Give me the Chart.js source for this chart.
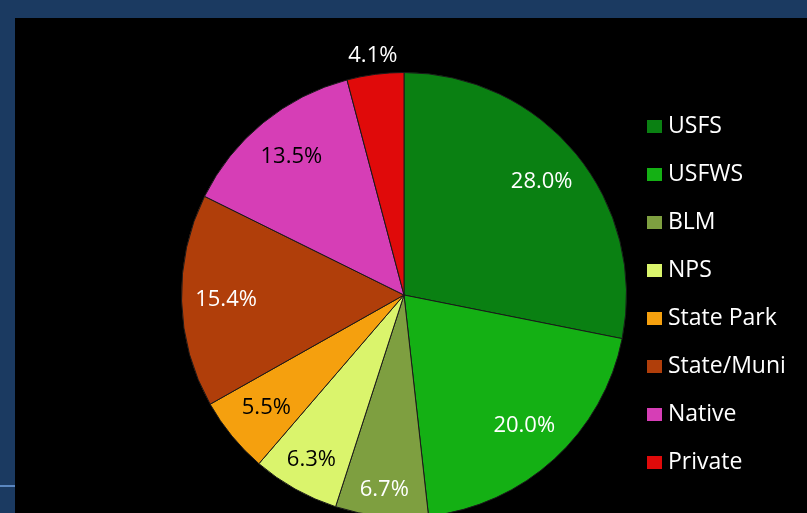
<!DOCTYPE html>
<html>
<head>
<meta charset="utf-8">
<script src="https://cdn.jsdelivr.net/npm/chart.js@4"></script>
<style>
  html, body { margin: 0; padding: 0; width: 807px; height: 513px; overflow: hidden; background: #1b3a61; }
  #panel { position: absolute; left: 15px; top: 18px; width: 792px; height: 554px; background: #000; }
  #rule { position: absolute; left: 0; top: 485px; width: 15px; height: 2px; background: #5b87c0; }
</style>
</head>
<body>
<div id="rule"></div>
<div id="panel"><canvas id="pie" width="792" height="554"></canvas></div>
<script>
// Land ownership share (%)
const owners = ['USFS', 'USFWS', 'BLM', 'NPS', 'State Park', 'State/Muni', 'Native', 'Private'];
const shares = [28.0, 20.0, 6.7, 6.3, 5.5, 15.4, 13.5, 4.1];
const sliceColors = ['#0a8012', '#14b014', '#7e9f40', '#daf46c', '#f5a00e', '#b03e0a', '#d63eb6', '#e00a0a'];
const labelColors = ['#fff', '#fff', '#fff', '#000', '#000', '#fff', '#000', '#fff'];

const FONT = '"Open Sans", Lato, sans-serif';

// percent labels, inside the slices except the tiny last one
const sliceLabels = {
    id: 'sliceLabels',
    afterDatasetsDraw(chart) {
        const ctx = chart.ctx;
        const arcs = chart.getDatasetMeta(0).data;
        ctx.save();
        ctx.font = '22px ' + FONT;
        ctx.textAlign = 'center';
        ctx.textBaseline = 'middle';
        arcs.forEach((arc, i) => {
            const mid = (arc.startAngle + arc.endAngle) / 2;
            const f = shares[i] < 5 ? 1.085 : (i === 2 ? 0.88 : (i === 3 ? 0.85 : 0.8));
            const r = arc.outerRadius * f;
            ctx.fillStyle = shares[i] < 5 ? '#fff' : labelColors[i];
            ctx.fillText(shares[i].toFixed(1) + '%', arc.x + Math.cos(mid) * r, arc.y + Math.sin(mid) * r);
        });
        ctx.restore();
    }
};

// legend on the right
const sideLegend = {
    id: 'sideLegend',
    afterDraw(chart) {
        const ctx = chart.ctx;
        const x0 = 632, y0 = 108, step = 48;
        ctx.save();
        ctx.font = '23px ' + FONT;
        ctx.textBaseline = 'middle';
        owners.forEach((name, i) => {
            const y = y0 + i * step;
            ctx.fillStyle = sliceColors[i];
            ctx.fillRect(x0, y - 6, 15, 13);
            ctx.fillStyle = '#fff';
            ctx.fillText(name, x0 + 21, y);
        });
        ctx.restore();
    }
};

new Chart(document.getElementById('pie'), {
    type: 'pie',
    data: {
        labels: owners,
        datasets: [{
            data: shares,
            backgroundColor: sliceColors,
            borderColor: '#1a1a1a',
            borderWidth: 1
        }]
    },
    options: {
        responsive: false,
        animation: false,
        layout: { padding: { left: 166, right: 180, top: 53, bottom: 53 } },
        plugins: {
            legend: { display: false },
            tooltip: { enabled: false }
        }
    },
    plugins: [sliceLabels, sideLegend]
});
</script>
</body>
</html>
